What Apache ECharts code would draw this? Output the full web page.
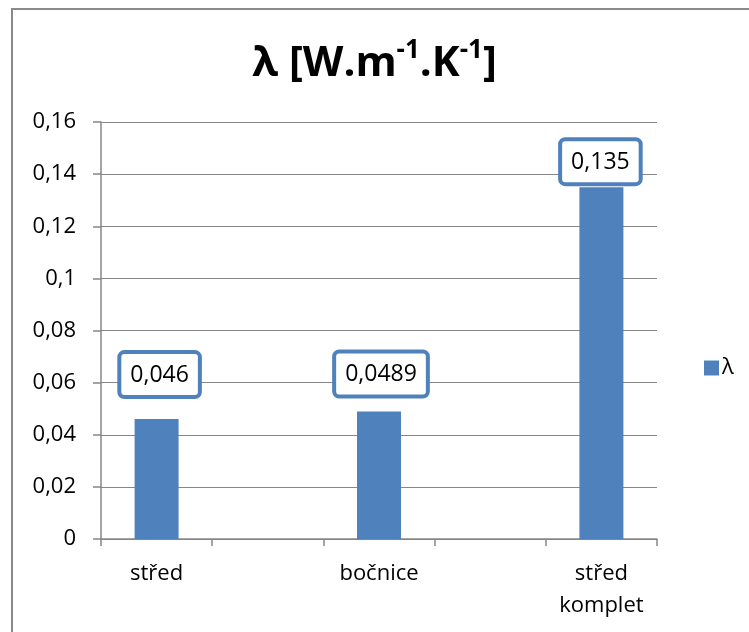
<!DOCTYPE html>
<html>
<head>
<meta charset="utf-8">
<script src="https://cdn.jsdelivr.net/npm/echarts@6/dist/echarts.min.js"></script>
<style>
  html, body { margin: 0; padding: 0; background: #fff; }
  #main { width: 749px; height: 632px; }
</style>
</head>
<body>
<div id="main"></div>
<script>
// categories (empty slots between bars, as in the original sheet)
const categories = ['střed', '', 'bočnice', '', 'střed\nkomplet']
const lambdaValues = [0.046, null, 0.0489, null, 0.135]
const yTicks = { min: 0, max: 0.16, step: 0.02 }

// label boxes were moved by hand in the original, so each one has its own gap
const labelGap = [24, null, 17, null, 5]
const labelShift = [3, null, 2, null, -1]

const font = '"Open Sans", "Noto Sans", sans-serif'
const blue = '#4f81bd'
const grey = '#868686'

function comma(v) {
  return parseFloat(v.toFixed(4)).toString().replace('.', ',')
}

const barData = lambdaValues.map(function (v, i) {
  if (v == null) return '-'
  return {
    value: v,
    label: { distance: labelGap[i], offset: [labelShift[i], 0] },
  }
})

var myChart = echarts.init(document.getElementById('main'))
var option = {
  animation: false,
  backgroundColor: '#fff',
  textStyle: { fontFamily: font, color: '#000' },
  title: {
    text: '{a|λ [W.m}{s|-1}{a|.K}{s|-1}{a|]}',
    left: 'center',
    top: 33,
    textStyle: {
      rich: {
        a: { fontFamily: font, fontSize: 42, fontWeight: 'bold', color: '#000', lineHeight: 52 },
        s: { fontFamily: font, fontSize: 26, fontWeight: 'bold', color: '#000', lineHeight: 40, verticalAlign: 'top' },
      },
    },
  },
  legend: {
    left: 699,
    top: 352,
    icon: 'rect',
    itemWidth: 15,
    itemHeight: 15,
    itemGap: 6,
    textStyle: { fontFamily: font, fontSize: 22, color: '#000', padding: [0, 0, 0, -2] },
    data: ['λ'],
  },
  grid: { left: 101, right: 92, top: 122, bottom: 93 },
  xAxis: {
    type: 'category',
    data: categories,
    boundaryGap: true,
    axisLine: { lineStyle: { color: grey, width: 1.5 } },
    axisTick: { show: true, interval: 0, length: 7, lineStyle: { color: grey, width: 1.5 } },
    axisLabel: {
      interval: 0,
      margin: 19,
      fontFamily: font,
      fontSize: 22,
      color: '#000',
      lineHeight: 32,
    },
  },
  yAxis: {
    type: 'value',
    min: yTicks.min,
    max: yTicks.max,
    interval: yTicks.step,
    axisLine: { show: true, lineStyle: { color: grey, width: 1.5 } },
    axisTick: { show: true, length: 8, lineStyle: { color: grey, width: 1.5 } },
    splitLine: { lineStyle: { color: grey, width: 1 } },
    axisLabel: {
      margin: 25,
      fontFamily: font,
      fontSize: 22,
      color: '#000',
      formatter: function (v) { return comma(v) },
    },
  },
  series: [
    {
      name: 'λ',
      type: 'bar',
      barWidth: 44,
      itemStyle: { color: blue },
      data: barData,
      label: {
        show: true,
        position: 'top',
        fontFamily: font,
        fontSize: 23,
        color: '#000',
        backgroundColor: '#fff',
        borderColor: blue,
        borderWidth: 4,
        borderRadius: 3,
        padding: [6, 9, 5, 9],
        lineHeight: 30,
        formatter: function (p) { return comma(p.value) },
      },
    },
  ],
  graphic: [
    {
      type: 'rect',
      silent: true,
      z: 100,
      shape: { x: 12, y: 9, width: 800, height: 700 },
      style: { fill: 'none', stroke: '#8a8a8a', lineWidth: 2 },
    },
  ],
}
option && myChart.setOption(option)
</script>
</body>
</html>
